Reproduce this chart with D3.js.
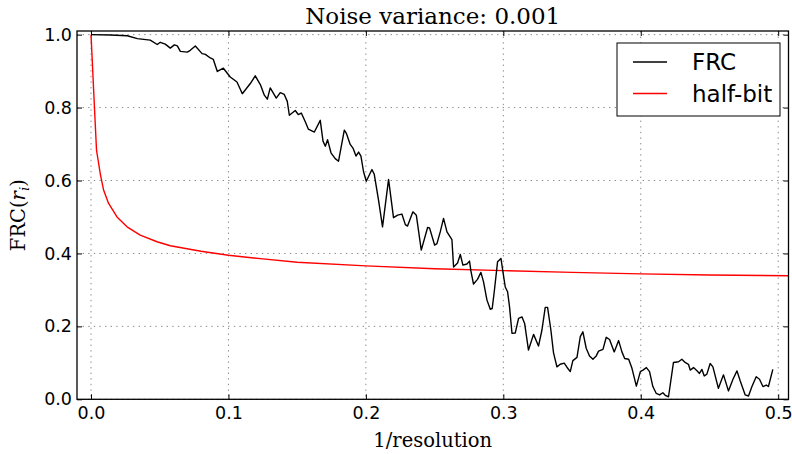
<!DOCTYPE html>
<html>
<head>
<meta charset="utf-8">
<script src="https://cdn.jsdelivr.net/npm/d3@7"></script>
<style>
  html, body { margin: 0; padding: 0; background: #fff; }
  svg { display: block; }
  .tick text { font-family: "DejaVu Sans", sans-serif; font-size: 17.5px; fill: #000; }
</style>
</head>
<body>
<svg id="chart" width="792" height="454"></svg>
<script>
// FRC curve (spatial frequency vs correlation)
const frcX = [0, 0.014, 0.0264, 0.0337, 0.0431, 0.0482, 0.0504, 0.054, 0.0577, 0.0606, 0.0628, 0.065, 0.0701, 0.0722, 0.0759, 0.0808, 0.0832, 0.0868, 0.089, 0.0919, 0.0963, 0.1013, 0.1062, 0.1101, 0.1159, 0.1195, 0.1232, 0.1261, 0.1283, 0.1304, 0.1348, 0.1377, 0.1406, 0.1428, 0.1443, 0.1486, 0.1508, 0.153, 0.1559, 0.1581, 0.1625, 0.1668, 0.1688, 0.1705, 0.1721, 0.1746, 0.1777, 0.1801, 0.1843, 0.1857, 0.1886, 0.1906, 0.1928, 0.1947, 0.1964, 0.1983, 0.2003, 0.2044, 0.2061, 0.2092, 0.2121, 0.2165, 0.2201, 0.2231, 0.2262, 0.2287, 0.2303, 0.2342, 0.2367, 0.2403, 0.2449, 0.2463, 0.25, 0.2517, 0.2541, 0.2565, 0.259, 0.2626, 0.2638, 0.2667, 0.2687, 0.2706, 0.2735, 0.2754, 0.2764, 0.2783, 0.2812, 0.2837, 0.2856, 0.2881, 0.2905, 0.2919, 0.2934, 0.2958, 0.2983, 0.2997, 0.3014, 0.3031, 0.3045, 0.3063, 0.3087, 0.3111, 0.3136, 0.3155, 0.3183, 0.322, 0.3256, 0.3281, 0.3305, 0.3322, 0.3346, 0.3365, 0.339, 0.3414, 0.3443, 0.3463, 0.3487, 0.3506, 0.3536, 0.356, 0.3579, 0.3603, 0.3627, 0.3652, 0.3676, 0.3693, 0.3725, 0.3749, 0.3773, 0.3807, 0.3839, 0.3863, 0.3883, 0.3912, 0.3936, 0.3968, 0.3997, 0.4016, 0.4041, 0.4064, 0.4088, 0.4113, 0.4137, 0.4161, 0.4178, 0.4202, 0.4238, 0.4275, 0.4299, 0.4323, 0.4347, 0.436, 0.4384, 0.4409, 0.4427, 0.4445, 0.4462, 0.4481, 0.4505, 0.4525, 0.4565, 0.4602, 0.4638, 0.4671, 0.47, 0.4724, 0.476, 0.4784, 0.4809, 0.484, 0.4864, 0.4889, 0.4913, 0.4929, 0.4961];
const frcY = [1.000, 0.999, 0.997, 0.989, 0.985, 0.973, 0.979, 0.974, 0.963, 0.972, 0.969, 0.954, 0.952, 0.957, 0.969, 0.948, 0.946, 0.936, 0.932, 0.899, 0.908, 0.884, 0.870, 0.838, 0.866, 0.887, 0.863, 0.834, 0.823, 0.854, 0.826, 0.841, 0.836, 0.817, 0.779, 0.792, 0.781, 0.785, 0.761, 0.741, 0.733, 0.765, 0.708, 0.694, 0.712, 0.676, 0.660, 0.653, 0.738, 0.730, 0.699, 0.689, 0.667, 0.678, 0.667, 0.624, 0.598, 0.630, 0.617, 0.546, 0.473, 0.603, 0.498, 0.505, 0.508, 0.479, 0.475, 0.514, 0.505, 0.409, 0.471, 0.470, 0.423, 0.427, 0.459, 0.496, 0.459, 0.438, 0.363, 0.374, 0.397, 0.368, 0.371, 0.379, 0.352, 0.316, 0.329, 0.348, 0.322, 0.272, 0.247, 0.249, 0.295, 0.377, 0.386, 0.350, 0.308, 0.295, 0.254, 0.181, 0.182, 0.222, 0.226, 0.208, 0.135, 0.178, 0.146, 0.190, 0.252, 0.252, 0.190, 0.128, 0.089, 0.096, 0.099, 0.088, 0.076, 0.106, 0.115, 0.172, 0.185, 0.140, 0.119, 0.110, 0.119, 0.132, 0.137, 0.170, 0.164, 0.130, 0.161, 0.130, 0.112, 0.110, 0.085, 0.036, 0.076, 0.080, 0.087, 0.076, 0.035, 0.016, 0.012, 0.018, 0.011, 0.007, 0.101, 0.103, 0.110, 0.101, 0.096, 0.080, 0.087, 0.078, 0.071, 0.082, 0.064, 0.069, 0.098, 0.089, 0.030, 0.067, 0.023, 0.055, 0.078, 0.050, 0.012, 0.009, 0.035, 0.062, 0.055, 0.035, 0.039, 0.035, 0.082];

// half-bit threshold curve
const halfBitX = [0, 0.0025, 0.004, 0.0068, 0.0092, 0.0128, 0.0189, 0.0262, 0.0358, 0.048, 0.0577, 0.08, 0.1, 0.125, 0.15, 0.2, 0.25, 0.3, 0.35, 0.4, 0.45, 0.5075];
const halfBitY = [1.0, 0.80, 0.683, 0.617, 0.573, 0.537, 0.500, 0.473, 0.450, 0.432, 0.421, 0.406, 0.395, 0.385, 0.376, 0.366, 0.358, 0.353, 0.348, 0.344, 0.341, 0.339];

const xTicks = [0.0, 0.1, 0.2, 0.3, 0.4, 0.5];
const yTicks = [0.0, 0.2, 0.4, 0.6, 0.8, 1.0];
const seriesNames = ["FRC", "half-bit"];
const seriesColors = ["#000000", "#ff0000"];

const titleText = "Noise variance: 0.001";
const xLabelText = "1/resolution";

const L = 77, R = 788.5, T = 31, B = 399.3;
const svg = d3.select("#chart");

const x = d3.scaleLinear().domain([-0.0102, 0.5075]).range([L, R]);
const y = d3.scaleLinear().domain([0, 1.01]).range([B, T]);
const fmt = d3.format(".1f");

// dotted grid
const grid = svg.append("g");
grid.selectAll("line.gx").data(xTicks).join("line")
  .attr("x1", d => x(d)).attr("x2", d => x(d)).attr("y1", T).attr("y2", B)
  .attr("stroke", "#8a8a8a").attr("stroke-width", 1).attr("stroke-dasharray", "1.4,4.2");
grid.selectAll("line.gy").data(yTicks).join("line")
  .attr("x1", L).attr("x2", R).attr("y1", d => y(d)).attr("y2", d => y(d))
  .attr("stroke", "#8a8a8a").attr("stroke-width", 1).attr("stroke-dasharray", "1.4,4.2");

// clipped plot lines
svg.append("clipPath").attr("id", "plotclip").append("rect")
  .attr("x", L).attr("y", T).attr("width", R - L).attr("height", B - T);

const line = d3.line().x(d => x(d[0])).y(d => y(d[1]));
const plot = svg.append("g").attr("clip-path", "url(#plotclip)");
plot.append("path").datum(halfBitX.map((v, i) => [v, halfBitY[i]]))
  .attr("d", line).attr("fill", "none").attr("stroke", seriesColors[1])
  .attr("stroke-width", 1.4).attr("stroke-linejoin", "round");
plot.append("path").datum(frcX.map((v, i) => [v, frcY[i]]))
  .attr("d", line).attr("fill", "none").attr("stroke", seriesColors[0])
  .attr("stroke-width", 1.4).attr("stroke-linejoin", "round");

// axes with inward ticks on all four sides
const tickLen = 5;
const axB = svg.append("g").attr("transform", `translate(0,${B})`)
  .call(d3.axisBottom(x).tickValues(xTicks).tickFormat(fmt).tickSizeInner(-tickLen).tickSizeOuter(0).tickPadding(7));
const axT = svg.append("g").attr("transform", `translate(0,${T})`)
  .call(d3.axisTop(x).tickValues(xTicks).tickFormat("").tickSizeInner(-tickLen).tickSizeOuter(0));
const axL = svg.append("g").attr("transform", `translate(${L},0)`)
  .call(d3.axisLeft(y).tickValues(yTicks).tickFormat(fmt).tickSizeInner(-tickLen).tickSizeOuter(0).tickPadding(5));
const axR = svg.append("g").attr("transform", `translate(${R},0)`)
  .call(d3.axisRight(y).tickValues(yTicks).tickFormat("").tickSizeInner(-tickLen).tickSizeOuter(0));
[axB, axT, axL, axR].forEach(a => {
  a.select(".domain").remove();
  a.selectAll(".tick line").attr("stroke", "#000").attr("stroke-width", 1);
  a.attr("font-size", null).attr("font-family", null);
});

// frame
svg.append("rect").attr("x", L).attr("y", T).attr("width", R - L).attr("height", B - T)
  .attr("fill", "none").attr("stroke", "#000").attr("stroke-width", 1.3);

// title and axis labels
svg.append("text").attr("x", (L + R) / 2).attr("y", 24).attr("text-anchor", "middle")
  .attr("font-family", "DejaVu Serif, serif").attr("font-size", 23).text(titleText);
svg.append("text").attr("x", (L + R) / 2).attr("y", 447).attr("text-anchor", "middle")
  .attr("font-family", "DejaVu Serif, serif").attr("font-size", 19.5).text(xLabelText);

const yl = svg.append("text").attr("transform", `translate(25,${(T + B) / 2}) rotate(-90)`)
  .attr("text-anchor", "middle").attr("font-family", "DejaVu Serif, serif").attr("font-size", 19.5);
yl.append("tspan").text("FRC(");
yl.append("tspan").attr("font-style", "italic").text("r");
yl.append("tspan").attr("font-style", "italic").attr("font-size", 13.5).attr("dy", 3.5).text("i");
yl.append("tspan").attr("dy", -3.5).text(")");

// legend
const lg = svg.append("g");
lg.append("rect").attr("x", 617).attr("y", 43).attr("width", 163).attr("height", 73)
  .attr("fill", "#fff").attr("stroke", "#000").attr("stroke-width", 1);
seriesNames.forEach((name, i) => {
  const ly = 62 + i * 31.5;
  lg.append("line").attr("x1", 633).attr("x2", 667).attr("y1", ly).attr("y2", ly)
    .attr("stroke", seriesColors[i]).attr("stroke-width", 1.4);
  lg.append("text").attr("x", 692).attr("y", ly).attr("dy", "0.36em")
    .attr("font-family", "DejaVu Sans, sans-serif").attr("font-size", 23).text(name);
});
</script>
</body>
</html>
